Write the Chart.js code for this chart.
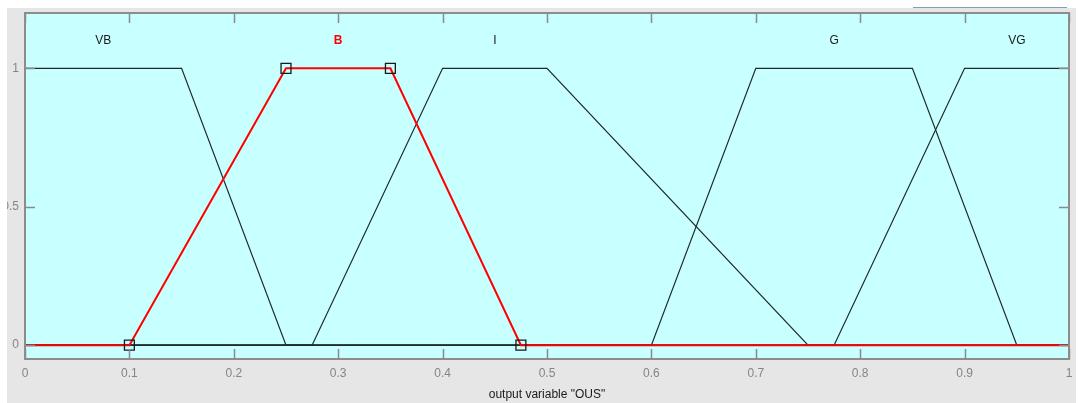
<!DOCTYPE html>
<html>
<head>
<meta charset="utf-8">
<script src="https://cdn.jsdelivr.net/npm/chart.js@4.4.0/dist/chart.umd.min.js"></script>
<style>
  html, body { margin: 0; padding: 0; background: #fff; overflow: hidden; }
  #tabline { position: absolute; left: 913px; top: 7px; width: 154px; height: 1px; background: #7f9ec2; }
  #frame { position: absolute; left: 7px; top: 8px; width: 1069px; height: 395px; background: #e6e6e6; }
</style>
</head>
<body>
<div id="tabline"></div>
<div id="frame"><canvas id="mf"></canvas></div>
<script>
// membership functions of output variable "OUS" (corner points)
const bX  = [0, 0.1, 0.25, 0.35, 0.475, 1];
const bY  = [0, 0, 1, 1, 0, 0];
const vbX = [0, 0.15, 0.25, 1];
const vbY = [1, 1, 0, 0];
const iX  = [0, 0.275, 0.4, 0.5, 0.75, 1];
const iY  = [0, 0, 1, 1, 0, 0];
const gX  = [0, 0.6, 0.7, 0.85, 0.95, 1];
const gY  = [0, 0, 1, 1, 0, 0];
const vgX = [0, 0.775, 0.9, 1];
const vgY = [0, 0, 1, 1];

const xTicks = [0, 0.1, 0.2, 0.3, 0.4, 0.5, 0.6, 0.7, 0.8, 0.9, 1];
const xTickLabels = ['0', '0.1', '0.2', '0.3', '0.4', '0.5', '0.6', '0.7', '0.8', '0.9', '1'];
const yTicks = [0, 0.5, 1];
const yTickLabels = ['0', '0.5', '1'];

const selected = 'B';
const nameY = 1.1;

const series = [
  { name: 'B', xs: bX, ys: bY },
  { name: 'VB', xs: vbX, ys: vbY },
  { name: 'I', xs: iX, ys: iY },
  { name: 'G', xs: gX, ys: gY },
  { name: 'VG', xs: vgX, ys: vgY },
];

const datasets = series.map(s => {
  const sel = s.name === selected;
  return {
    label: s.name,
    data: s.xs.map((x, i) => ({ x, y: s.ys[i] })),
    borderColor: sel ? '#ff0000' : '#1e2a2a',
    borderWidth: sel ? 2 : 1.2,
    pointRadius: sel ? s.xs.map((x, i) => (i === 0 || i === s.xs.length - 1) ? 0 : 7) : 0,
    pointStyle: 'rect',
    pointBorderColor: '#1a1a1a',
    pointBackgroundColor: 'rgba(0,0,0,0)',
    pointBorderWidth: 1.3,
    tension: 0,
    order: sel ? 0 : 1,
  };
});

// plot background, inward ticks, box and MF names
const mfFrame = {
  id: 'mfFrame',
  beforeDatasetsDraw(chart) {
    const { ctx, chartArea: a } = chart;
    ctx.save();
    ctx.fillStyle = '#c8ffff';
    ctx.fillRect(a.left, a.top, a.right - a.left, a.bottom - a.top);
    ctx.restore();
  },
  afterDatasetsDraw(chart) {
    const { ctx, chartArea: a, scales } = chart;
    const len = 10;
    ctx.save();
    ctx.strokeStyle = '#8a8a8a';
    ctx.lineWidth = 1.5;
    ctx.beginPath();
    for (const v of xTicks) {
      const px = Math.round(scales.x.getPixelForValue(v)) + 0.5;
      ctx.moveTo(px, a.bottom); ctx.lineTo(px, a.bottom - len);
      ctx.moveTo(px, a.top); ctx.lineTo(px, a.top + len);
    }
    for (const v of yTicks) {
      const py = Math.round(scales.y.getPixelForValue(v)) + 0.5;
      ctx.moveTo(a.left, py); ctx.lineTo(a.left + len, py);
      ctx.moveTo(a.right, py); ctx.lineTo(a.right - len, py);
    }
    ctx.stroke();
    ctx.lineWidth = 2;
    ctx.strokeStyle = '#8c8c8c';
    ctx.strokeRect(a.left, a.top, a.right - a.left, a.bottom - a.top);

    ctx.textAlign = 'center';
    ctx.textBaseline = 'middle';
    for (const s of series) {
      const top = s.xs.filter((x, i) => s.ys[i] === 1);
      const cx = (Math.min(...top) + Math.max(...top)) / 2;
      const sel = s.name === selected;
      ctx.fillStyle = sel ? '#ff0000' : '#1a1a1a';
      ctx.font = (sel ? 'bold ' : '') + '12px "Liberation Sans", Arial, sans-serif';
      ctx.fillText(s.name, scales.x.getPixelForValue(cx), scales.y.getPixelForValue(nameY));
    }
    ctx.restore();
  }
};

new Chart(document.getElementById('mf'), {
  type: 'line',
  data: { datasets },
  plugins: [mfFrame],
  options: {
    responsive: true,
    maintainAspectRatio: false,
    animation: false,
    layout: { padding: { left: 0, top: 5, right: 7, bottom: 0 } },
    scales: {
      x: {
        type: 'linear',
        min: 0,
        max: 1,
        afterBuildTicks: s => { s.ticks = xTicks.map(v => ({ value: v })); },
        afterFit: s => { s.height = 44; s.paddingLeft = 0; s.paddingRight = 0; },
        ticks: {
          color: '#858585',
          font: { size: 12, family: '"Liberation Sans", Arial, sans-serif' },
          padding: 7,
          maxRotation: 0,
          autoSkip: false,
          callback: (v, i) => xTickLabels[i],
        },
        grid: { display: false, drawTicks: false },
        border: { display: false },
        title: {
          display: true,
          text: 'output variable "OUS"',
          color: '#1a1a1a',
          font: { size: 12, family: '"Liberation Sans", Arial, sans-serif' },
          padding: { top: 3, bottom: 1 },
        },
      },
      y: {
        type: 'linear',
        min: -0.05,
        max: 1.2,
        afterBuildTicks: s => { s.ticks = yTicks.map(v => ({ value: v })); },
        afterFit: s => { s.width = 18; s.paddingTop = 0; s.paddingBottom = 0; },
        ticks: {
          color: '#858585',
          font: { size: 12, family: '"Liberation Sans", Arial, sans-serif' },
          padding: 6,
          autoSkip: false,
          callback: (v, i) => yTickLabels[i],
        },
        grid: { display: false, drawTicks: false },
        border: { display: false },
      },
    },
    plugins: {
      legend: { display: false },
      tooltip: { enabled: false },
    },
  },
});
</script>
</body>
</html>
